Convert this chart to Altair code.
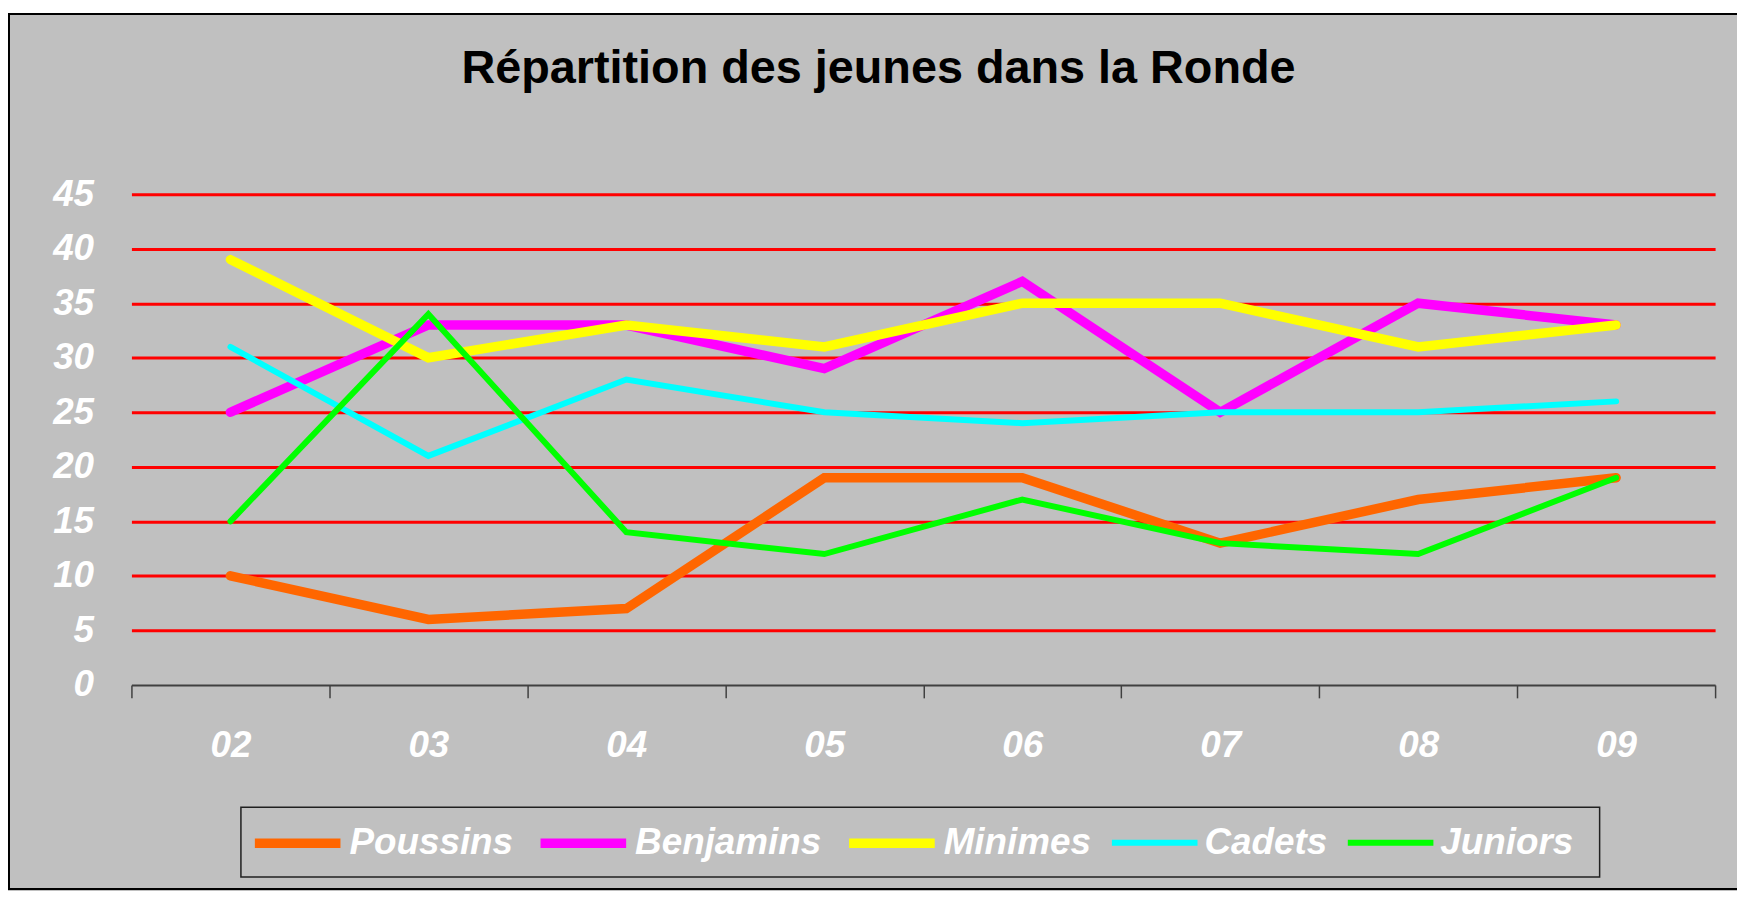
import altair as alt
import pandas as pd

annees = ["02", "03", "04", "05", "06", "07", "08", "09"]
series = ["Poussins", "Benjamins", "Minimes", "Cadets", "Juniors"]
poussins = [10, 6, 7, 19, 19, 13, 17, 19]
benjamins = [25, 33, 33, 29, 37, 25, 35, 33]
minimes = [39, 30, 33, 31, 35, 35, 31, 33]
cadets = [31, 21, 28, 25, 24, 25, 25, 26]
juniors = [15, 34, 14, 12, 17, 13, 12, 19]
couleurs = ["#FF6600", "#FF00FF", "#FFFF00", "#00FFFF", "#00FF00"]
epaisseurs = [9.5, 9.5, 9.5, 6, 6]
graduations = [0, 5, 10, 15, 20, 25, 30, 35, 40, 45]

valeurs = [poussins, benjamins, minimes, cadets, juniors]
rows = []
for s, vals in zip(series, valeurs):
    for a, v in zip(annees, vals):
        rows.append({"annee": a, "serie": s, "valeur": v})
df = pd.DataFrame(rows)

W, H = 1591, 493
FONT = "Liberation Sans"

lines = alt.Chart(df).mark_line(strokeCap="round", strokeJoin="miter").encode(
    x=alt.X("annee:O", sort=annees, title=None,
            scale=alt.Scale(paddingInner=0, paddingOuter=0),
            axis=alt.Axis(tickBand="extent", grid=False, domainColor="#404040",
                          domainWidth=2, tickColor="#404040", tickWidth=1.5,
                          tickSize=13, labelPadding=30, labelAngle=0,
                          labelColor="#FFFFFF", labelFont=FONT, labelFontSize=37,
                          labelFontWeight="bold", labelFontStyle="italic")),
    y=alt.Y("valeur:Q", title=None,
            scale=alt.Scale(domain=[0, 45], nice=False, zero=True),
            axis=alt.Axis(values=graduations, domain=False, ticks=False,
                          grid=True,
                          gridColor=alt.condition("datum.value === 0",
                                                  alt.value("transparent"),
                                                  alt.value("#FF0000")),
                          gridWidth=3, labelPadding=38,
                          labelColor="#FFFFFF", labelFont=FONT, labelFontSize=37,
                          labelFontWeight="bold", labelFontStyle="italic")),
    color=alt.Color("serie:N", sort=series,
                    scale=alt.Scale(domain=series, range=couleurs),
                    legend=alt.Legend(title=None)),
    strokeWidth=alt.StrokeWidth("serie:N", sort=series,
                                scale=alt.Scale(type="ordinal", domain=series, range=epaisseurs),
                                legend=alt.Legend(title=None)),
    detail="serie:N",
)

deco = pd.DataFrame({"k": [0]})
topwhite = alt.Chart(deco).mark_rect(fill="#FFFFFF").encode(
    x=alt.value(-130), x2=alt.value(W + 40), y=alt.value(-190), y2=alt.value(-182)
)
border = alt.Chart(deco).mark_rect(fill="transparent", stroke="#000000", strokeWidth=2).encode(
    x=alt.value(-123), x2=alt.value(W + 40), y=alt.value(-181), y2=alt.value(698)
)
legend_box = alt.Chart(deco).mark_rect(fill="transparent", stroke="#202020", strokeWidth=1.5).encode(
    x=alt.value(110), x2=alt.value(1475), y=alt.value(616), y2=alt.value(686)
)

chart = alt.layer(topwhite, border, legend_box, lines).properties(
    width=W, height=H,
    title=alt.Title("Répartition des jeunes dans la Ronde", anchor="middle",
                    frame="group", dx=-45, offset=-125, baseline="alphabetic",
                    font=FONT, fontSize=47, fontWeight="bold", color="#000000"),
    padding={"left": 124, "top": 185, "right": 22, "bottom": 205},
    autosize=alt.AutoSizeParams(type="none"),
    background="#C0C0C0",
).configure_view(stroke=None).configure_legend(
    orient="none", legendX=119, legendY=604, direction="horizontal",
    symbolType="stroke", symbolSize=7396, symbolStrokeWidth=9,
    labelFont=FONT, labelFontSize=37, labelFontWeight="bold", labelFontStyle="italic",
    labelColor="#FFFFFF", labelOffset=4, columnPadding=8, padding=0,
    strokeColor="transparent", fillColor="transparent", labelLimit=400,
)

chart.save("out.html", embed_options={"renderer": "svg", "actions": False})
